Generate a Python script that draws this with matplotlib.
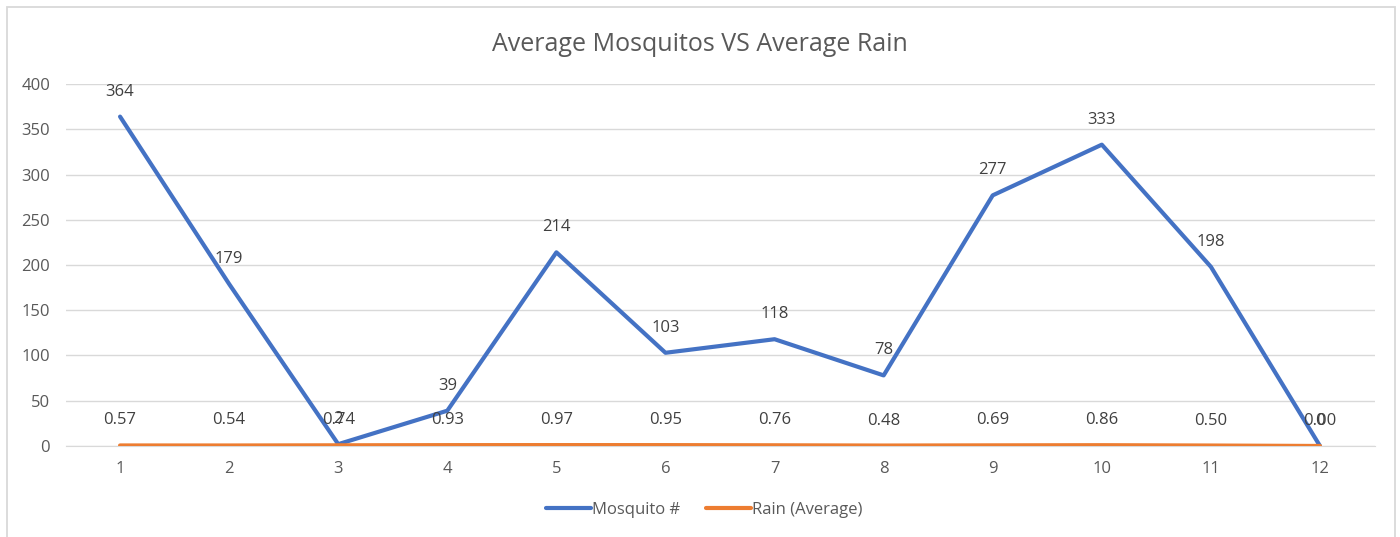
import matplotlib.pyplot as plt
from matplotlib.patches import Rectangle

# ============================================================
# Data
# ============================================================

months = [1, 2, 3, 4, 5, 6, 7, 8, 9, 10, 11, 12]
mosquitos = [364, 179, 2, 39, 214, 103, 118, 78, 277, 333, 198, 0]
rain_avg = [0.57, 0.54, 0.74, 0.93, 0.97, 0.95, 0.76, 0.48, 0.69, 0.86, 0.50, 0.00]

BLUE = "#4472C4"
ORANGE = "#ED7D31"
TEXT = "#595959"
LABEL = "#404040"

plt.rcParams["font.family"] = ["Open Sans", "DejaVu Sans"]

# ============================================================
# Plot
# ============================================================

fig = plt.figure(figsize=(14, 5.37), dpi=100)
ax = fig.add_axes([0.0468, 0.1695, 0.935, 0.674])

# chart frame (bottom edge runs off the image, as in the original)
fig.patches.append(Rectangle((0.005, -0.02), 0.9915, 1.007, transform=fig.transFigure,
                             fill=False, edgecolor="#D9D9D9", linewidth=1.3))

ax.plot(months, mosquitos, color=BLUE, linewidth=3, label="Mosquito #",
        solid_capstyle="round", zorder=3)
ax.plot(months, rain_avg, color=ORANGE, linewidth=3, label="Rain (Average)",
        solid_capstyle="round", zorder=4)

# data labels (overlaps at 3 and 12 are as in the original)
for m, v in zip(months, mosquitos):
    ax.annotate(f"{v}", (m, v), xytext=(0, 25), textcoords="offset pixels",
                ha="center", va="center", fontsize=12, color=LABEL)

for m, v in zip(months, rain_avg):
    ax.annotate(f"{v:.2f}", (m, v), xytext=(0, 25), textcoords="offset pixels",
                ha="center", va="center", fontsize=12, color=LABEL)

ax.set_xlim(0.5, 12.5)
ax.set_ylim(0, 400)
ax.set_xticks(months)
ax.set_yticks(range(0, 401, 50))
ax.tick_params(axis="both", length=0, labelsize=12, labelcolor=TEXT)
ax.tick_params(axis="x", pad=11)
ax.tick_params(axis="y", pad=11)

ax.grid(axis="y", color="#D9D9D9", linewidth=1)
ax.set_axisbelow(True)
for side in ["top", "right", "left"]:
    ax.spines[side].set_visible(False)
ax.spines["bottom"].set_color("#D9D9D9")

fig.text(0.5, 0.918, "Average Mosquitos VS Average Rain", ha="center", va="center",
         fontsize=18, color=TEXT)

fig.legend(loc="center", bbox_to_anchor=(0.503, 0.05), ncol=2, frameon=False,
           fontsize=12, labelcolor=TEXT, handlelength=2.7, handletextpad=0.1,
           columnspacing=1.5)

fig.savefig("out.png", dpi=100)
